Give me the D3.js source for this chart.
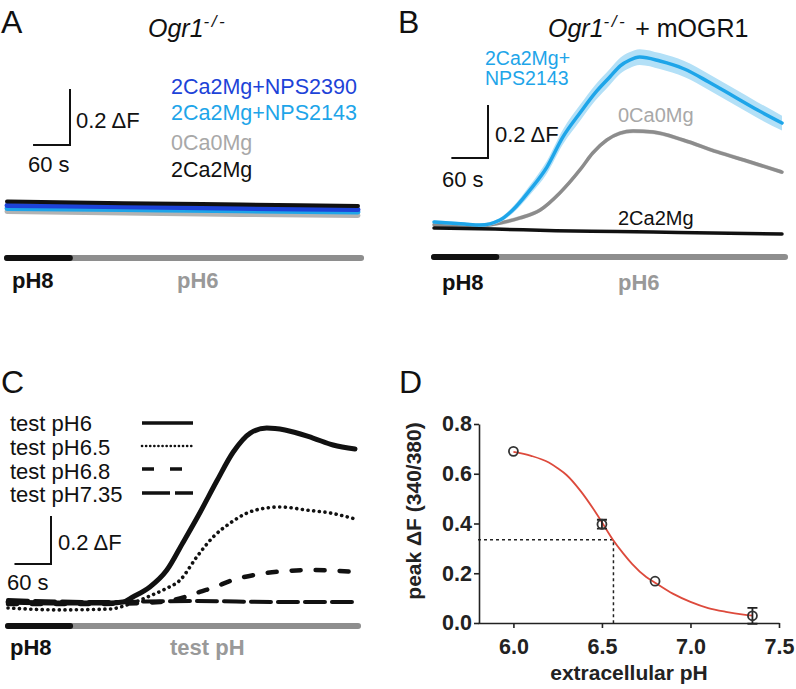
<!DOCTYPE html>
<html>
<head>
<meta charset="utf-8">
<script src="https://cdn.jsdelivr.net/npm/d3@7"></script>
<style>
body { margin: 0; background: #fff; }
text { font-family: "Liberation Sans", Arial, sans-serif; }
</style>
</head>
<body>
<script>
// ---- panel A: Ogr1-/- (deltaF vs time in s) ----
const aTime = [0, 190, 380, 570];
const aBlack = [0, -0.006, -0.011, -0.016];
const aBlue = [-0.014, -0.019, -0.024, -0.029];
const aLightBlue = [-0.025, -0.029, -0.033, -0.0375];
const aGray = [-0.036, -0.041, -0.046, -0.05];
const aLegend = ["2Ca2Mg+NPS2390", "2Ca2Mg+NPS2143", "0Ca0Mg", "2Ca2Mg"];

// ---- panel B: Ogr1-/- + mOGR1 ----
const bBlueTime = [0, 50, 75, 108, 129, 157, 185, 211, 239, 264, 288, 305, 320, 337, 370, 410, 450, 490, 530, 570];
const bBlue = [0.023, 0.015, 0.011, 0.03, 0.068, 0.143, 0.23, 0.343, 0.434, 0.51, 0.57, 0.612, 0.633, 0.645, 0.630, 0.600, 0.551, 0.498, 0.445, 0.396];
const bBlueErr = [0.006, 0.006, 0.006, 0.008, 0.012, 0.018, 0.024, 0.028, 0.03, 0.03, 0.03, 0.03, 0.03, 0.03, 0.03, 0.03, 0.03, 0.03, 0.03, 0.028];
const bGrayTime = [0, 40, 75, 108, 141, 174, 206, 239, 260, 283, 305, 326, 359, 408, 464, 518, 570];
const bGray = [0.012, 0.01, 0.008, 0.019, 0.038, 0.068, 0.132, 0.219, 0.283, 0.332, 0.358, 0.366, 0.362, 0.332, 0.287, 0.249, 0.211];
const bBlackTime = [0, 100, 200, 300, 400, 570];
const bBlack = [0, -0.004, -0.01, -0.013, -0.017, -0.023];

// ---- panel C: test pH traces ----
const cTime6 = [0, 85, 168, 189, 205, 233, 261, 287, 315, 343, 370, 398, 425, 455, 501, 534, 570];
const c6 = [0, -0.004, -0.004, 0, 0.021, 0.0625, 0.133, 0.246, 0.371, 0.504, 0.625, 0.704, 0.725, 0.717, 0.683, 0.654, 0.6375];
const cTime65 = [0, 85, 168, 200, 233, 258, 283, 310, 337, 365, 393, 425, 447, 491, 529, 570];
const c65 = [-0.025, -0.033, -0.029, -0.008, 0.025, 0.054, 0.092, 0.1875, 0.271, 0.329, 0.371, 0.392, 0.396, 0.383, 0.371, 0.346];
const cTime68 = [0, 151, 250, 291, 315, 340, 365, 414, 458, 501, 570];
const c68 = [-0.008, -0.008, 0, 0.021, 0.042, 0.0625, 0.0875, 0.117, 0.129, 0.133, 0.125];
const cTime735 = [0, 150, 300, 450, 570];
const c735 = [0.008, 0, 0.004, 0, 0];
const cLegend = ["test pH6", "test pH6.5", "test pH6.8", "test pH7.35"];

const phSwitch = 102;   // s, pH8 -> test pH

// ---- panel D: peak deltaF vs extracellular pH ----
const dPH = [6.0, 6.5, 6.8, 7.35];
const dPeak = [0.69, 0.397, 0.168, 0.029];
const dErr = [0, 0.018, 0, 0.032];
const dCurvePH = [6.0, 6.1, 6.2, 6.25, 6.3, 6.38, 6.45, 6.5, 6.56, 6.62, 6.67, 6.75, 6.8, 6.9, 7.0, 7.1, 7.2, 7.3, 7.35];
const dCurve = [0.688, 0.672, 0.645, 0.622, 0.595, 0.53, 0.46, 0.405, 0.337, 0.28, 0.238, 0.185, 0.162, 0.118, 0.085, 0.06, 0.045, 0.034, 0.03];
const dHalf = 0.335;
const dPH50 = 6.565;
const dXTicks = [6.0, 6.5, 7.0, 7.5];
const dYTicks = [0, 0.2, 0.4, 0.6, 0.8];

const blue = "#1d43d8", lightBlue = "#1ea5e9", gray = "#a8a8a8", barGray = "#8e8e8e";

const svg = d3.select("body").append("svg")
    .attr("width", 796)
    .attr("height", 689);

function addText(x, y, str, size, opts) {
    opts = opts || {};
    return svg.append("text")
        .attr("x", x).attr("y", y)
        .attr("font-size", size)
        .attr("font-weight", opts.bold ? "bold" : "normal")
        .attr("font-style", opts.italic ? "italic" : "normal")
        .attr("fill", opts.fill || "#111")
        .attr("text-anchor", opts.anchor || "start")
        .text(str);
}

function drawTrace(xs, ys, times, vals, color, width, dash) {
    const line = d3.line()
        .x(d => xs(d[0]))
        .y(d => ys(d[1]))
        .curve(d3.curveMonotoneX);
    const p = svg.append("path")
        .attr("d", line(d3.zip(times, vals)))
        .attr("fill", "none")
        .attr("stroke", color)
        .attr("stroke-width", width)
        .attr("stroke-linecap", "round")
        .attr("stroke-linejoin", "round");
    if (dash) p.attr("stroke-dasharray", dash);
    return p;
}

function scaleBar(xs, ys, cx, cy, labelPos) {
    const w = xs(60) - xs(0);
    const h = ys(0) - ys(0.2);
    svg.append("path")
        .attr("d", `M${cx - w},${cy}H${cx}V${cy - h}`)
        .attr("fill", "none").attr("stroke", "#111").attr("stroke-width", 2);
    addText(labelPos[0], labelPos[1], "0.2 \u0394F", 22);
    addText(labelPos[2], labelPos[3], "60 s", 22);
}

function phBar(xs, y, label2, lx1, lx2, ly) {
    svg.append("line")
        .attr("x1", xs(0)).attr("x2", xs(575)).attr("y1", y).attr("y2", y)
        .attr("stroke", barGray).attr("stroke-width", 6).attr("stroke-linecap", "round");
    svg.append("line")
        .attr("x1", xs(0)).attr("x2", xs(phSwitch)).attr("y1", y).attr("y2", y)
        .attr("stroke", "#111").attr("stroke-width", 6).attr("stroke-linecap", "round");
    addText(lx1, ly, "pH8", 22, {bold: true});
    addText(lx2, ly, label2, 22, {bold: true, fill: "#999"});
}

function title(x, y, extra) {
    const t = svg.append("text").attr("x", x).attr("y", y).attr("font-size", 25).attr("fill", "#111");
    t.append("tspan").attr("font-style", "italic").text("Ogr1");
    t.append("tspan").attr("font-style", "italic").attr("font-size", 17)
        .attr("letter-spacing", 2.5).attr("dy", -10).text("-/-");
    if (extra) t.append("tspan").attr("dy", 10).attr("dx", 8).text(extra);
}

// panel letters
addText(1, 33, "A", 32);
addText(398, 33, "B", 32);
addText(1, 393, "C", 32);
addText(399, 393, "D", 32);

// ===== Panel A =====
const xA = d3.scaleLinear().domain([0, 570]).range([7, 358]);
const yA = d3.scaleLinear().domain([0, 0.2]).range([201.5, 145.5]);
title(148, 37);
drawTrace(xA, yA, aTime, aGray, "#b3b3b3", 5);
drawTrace(xA, yA, aTime, aLightBlue, lightBlue, 5);
drawTrace(xA, yA, aTime, aBlue, blue, 5);
drawTrace(xA, yA, aTime, aBlack, "#111", 4);
scaleBar(xA, yA, 70, 145, [76, 128, 28, 172]);
const aColors = [blue, lightBlue, gray, "#111"];
const aLegendY = [94, 120, 150, 177];
aLegend.forEach((s, i) => addText(171, aLegendY[i], s, 21.5, {fill: aColors[i]}));
phBar(xA, 258, "pH6", 12, 177, 288);

// ===== Panel B =====
const xB = d3.scaleLinear().domain([0, 570]).range([434, 782]);
const yB = d3.scaleLinear().domain([0, 0.2]).range([228, 175]);
title(548, 37, "+ mOGR1");
const band = d3.area()
    .x(d => xB(d[0]))
    .y0(d => yB(d[1] - d[2]))
    .y1(d => yB(d[1] + d[2]))
    .curve(d3.curveMonotoneX);
svg.append("path")
    .attr("d", band(d3.zip(bGrayTime, bGray, bGrayTime.map(() => 0.008))))
    .attr("fill", "#d4d4d4");
drawTrace(xB, yB, bGrayTime, bGray, "#8c8c8c", 3.5);
svg.append("path")
    .attr("d", band(d3.zip(bBlueTime, bBlue, bBlueErr)))
    .attr("fill", "#b3e0f7");
drawTrace(xB, yB, bBlueTime, bBlue, lightBlue, 3.5);
drawTrace(xB, yB, bBlackTime, bBlack, "#111", 3.5);
scaleBar(xB, yB, 488, 158, [495, 142, 442, 187]);
addText(485, 65, "2Ca2Mg+", 19.5, {fill: lightBlue});
addText(485, 85, "NPS2143", 19.5, {fill: lightBlue});
addText(618, 122, "0Ca0Mg", 20, {fill: gray});
addText(618, 225, "2Ca2Mg", 20, {fill: "#111"});
phBar(xB, 257, "pH6", 442, 618, 290);

// ===== Panel C =====
const xC = d3.scaleLinear().domain([0, 570]).range([8, 355]);
const yC = d3.scaleLinear().domain([0, 0.2]).range([602, 554]);
const cStyles = [
    {w: 5, dash: null},
    {w: 3.6, dash: "0.1,5.6"},
    {w: 4.5, dash: "9,15"},
    {w: 4, dash: "20,7"}
];
drawTrace(xC, yC, cTime735, c735, "#111", cStyles[3].w, cStyles[3].dash);
drawTrace(xC, yC, cTime68, c68, "#111", cStyles[2].w, cStyles[2].dash);
drawTrace(xC, yC, cTime65, c65, "#111", cStyles[1].w, cStyles[1].dash);
drawTrace(xC, yC, cTime6, c6, "#111", cStyles[0].w, cStyles[0].dash);
const cTextY = [431, 455, 479, 502];
const cLineY = [423, 446, 469, 493];
cLegend.forEach((s, i) => {
    addText(10, cTextY[i], s, 22);
    const l = svg.append("line")
        .attr("x1", 142).attr("x2", 193)
        .attr("y1", cLineY[i]).attr("y2", cLineY[i])
        .attr("stroke", "#111")
        .attr("stroke-width", i === 1 ? 2.6 : 3.5)
        .attr("stroke-linecap", i === 1 ? "round" : "butt");
    if (i === 1) l.attr("stroke-dasharray", "0.1,4");
    if (i === 2) l.attr("stroke-dasharray", "12,16");
    if (i === 3) l.attr("stroke-dasharray", "28,5");
});
scaleBar(xC, yC, 51, 564, [58, 550, 7, 590]);
phBar(xC, 626, "test pH", 10, 170, 655);

// ===== Panel D =====
const xD = d3.scaleLinear().domain([5.8, 7.5]).range([478, 779]);
const yD = d3.scaleLinear().domain([0, 0.8]).range([623, 424]);

const xAxis = svg.append("g")
    .attr("transform", "translate(0,623)")
    .call(d3.axisBottom(xD).tickValues(dXTicks).tickFormat(d3.format(".1f")).tickSize(5).tickSizeOuter(0));
const yAxis = svg.append("g")
    .attr("transform", "translate(479,0)")
    .call(d3.axisLeft(yD).tickValues(dYTicks).tickFormat(d3.format(".1f")).tickSize(5).tickSizeOuter(0));
[xAxis, yAxis].forEach(ax => {
    ax.select(".domain").attr("stroke", "#222").attr("stroke-width", 1.6);
    ax.selectAll(".tick line").attr("stroke", "#222").attr("stroke-width", 1.6);
    ax.selectAll(".tick text")
        .attr("font-size", 21.5).attr("font-weight", "bold")
        .attr("font-family", "Liberation Sans, Arial, sans-serif")
        .attr("fill", "#222");
});
xAxis.selectAll(".tick text").attr("dy", "1.05em");
yAxis.selectAll(".tick text").attr("x", -7);

svg.append("text")
    .attr("x", 629).attr("y", 680)
    .attr("text-anchor", "middle")
    .attr("font-size", 21).attr("font-weight", "bold").attr("fill", "#222")
    .text("extracellular pH");
svg.append("text")
    .attr("transform", "translate(421,511) rotate(-90)")
    .attr("text-anchor", "middle")
    .attr("font-size", 21).attr("font-weight", "bold").attr("fill", "#222")
    .text("peak \u0394F (340/380)");

// dotted guide to half-maximal response
svg.append("path")
    .attr("d", `M${xD(5.8)},${yD(dHalf)}H${xD(dPH50)}V${yD(0)}`)
    .attr("fill", "none").attr("stroke", "#222")
    .attr("stroke-width", 1.5).attr("stroke-dasharray", "3,3");

// fitted curve
svg.append("path")
    .attr("d", d3.line().x(d => xD(d[0])).y(d => yD(d[1])).curve(d3.curveMonotoneX)(d3.zip(dCurvePH, dCurve)))
    .attr("fill", "none").attr("stroke", "#dd4a3c").attr("stroke-width", 1.8);

// error bars and points
const pts = d3.zip(dPH, dPeak, dErr);
pts.filter(d => d[2] > 0).forEach(d => {
    const x = xD(d[0]);
    svg.append("path")
        .attr("d", `M${x},${yD(d[1] - d[2])}V${yD(d[1] + d[2])}M${x - 5},${yD(d[1] + d[2])}H${x + 5}M${x - 5},${yD(d[1] - d[2])}H${x + 5}`)
        .attr("fill", "none").attr("stroke", "#222").attr("stroke-width", 1.8);
});
svg.selectAll("circle.pt")
    .data(pts)
    .enter()
    .append("circle")
    .attr("class", "pt")
    .attr("cx", d => xD(d[0]))
    .attr("cy", d => yD(d[1]))
    .attr("r", 4.5)
    .attr("fill", "none")
    .attr("stroke", "#333")
    .attr("stroke-width", 1.8);
</script>
</body>
</html>
